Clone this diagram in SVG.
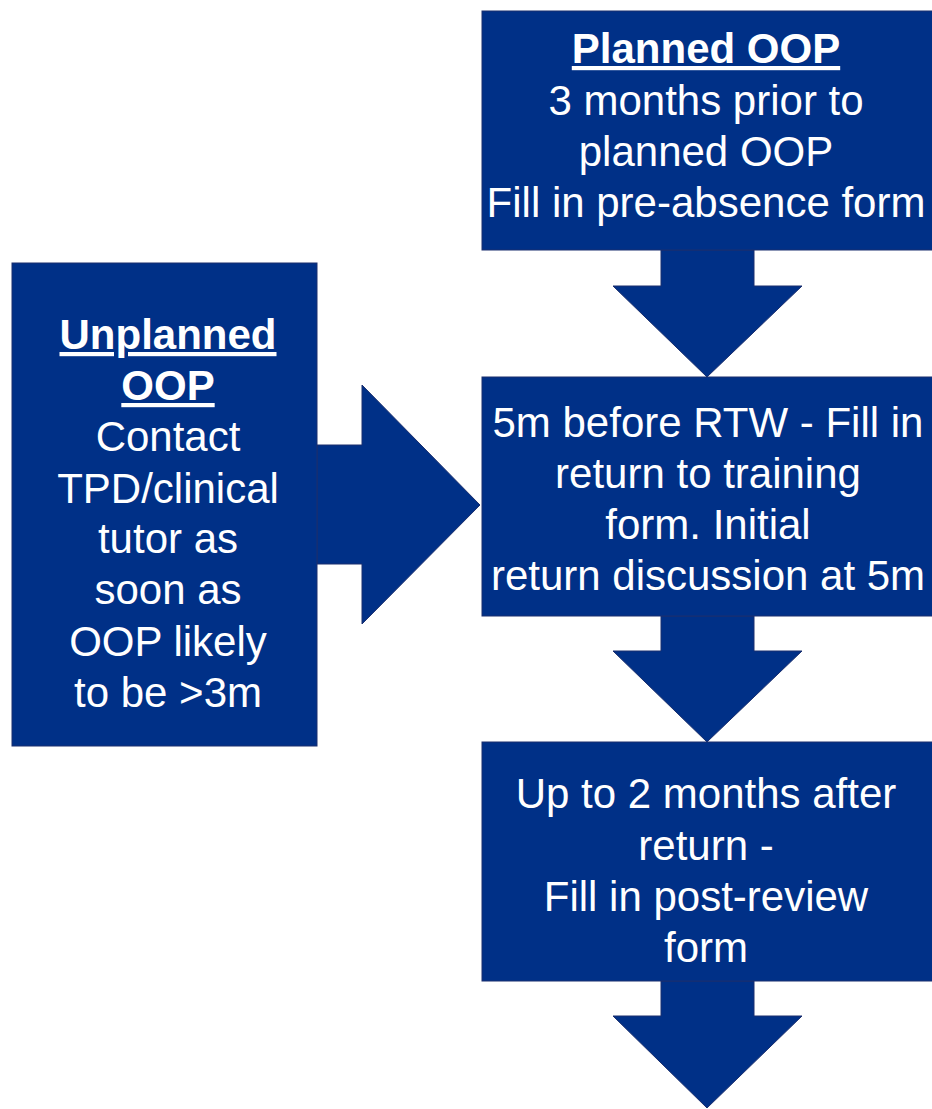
<svg xmlns="http://www.w3.org/2000/svg" width="932" height="1109" viewBox="0 0 932 1109">
<style>
.shape{fill:#003087;stroke:#1b2f6e;stroke-width:1}
.t{font-family:"Liberation Sans",Arial,sans-serif;font-size:42px;fill:#ffffff;text-anchor:middle}
.b{font-weight:bold;text-decoration:underline}
</style>
<rect width="932" height="1109" fill="#ffffff"/>
<g id="connectors">
<path class="shape" d="M661,250 L754,250 L754,286 L802,286 L707,377 L613,286 L661,286 Z"/>
<path class="shape" d="M661,616 L754,616 L754,651 L802,651 L707,742 L613,651 L661,651 Z"/>
<path class="shape" d="M661,981 L754,981 L754,1016 L802,1016 L707,1108 L613,1016 L661,1016 Z"/>
<path class="shape" d="M317,445 L362,445 L362,385 L480,505 L362,624 L362,564 L317,564 Z"/>
</g>
<g id="planned">
<rect class="shape" x="482" y="11" width="451" height="239"/>
<text class="t b" x="706" y="63">Planned OOP</text>
<text class="t" x="706" y="115">3 months prior to</text>
<text class="t" x="706" y="166">planned OOP</text>
<text class="t" x="706" y="217">Fill in pre-absence form</text>
</g>
<g id="unplanned">
<rect class="shape" x="12" y="263" width="305" height="483"/>
<text class="t b" x="168" y="349">Unplanned</text>
<text class="t b" x="168" y="400">OOP</text>
<text class="t" x="168" y="451">Contact</text>
<text class="t" x="168" y="503">TPD/clinical</text>
<text class="t" x="168" y="553">tutor as</text>
<text class="t" x="168" y="604">soon as</text>
<text class="t" x="168" y="656">OOP likely</text>
<text class="t" x="168" y="707">to be &gt;3m</text>
</g>
<g id="return">
<rect class="shape" x="482" y="377" width="451" height="239"/>
<text class="t" x="708" y="437">5m before RTW - Fill in</text>
<text class="t" x="708" y="488">return to training</text>
<text class="t" x="708" y="539">form. Initial</text>
<text class="t" x="708" y="590">return discussion at 5m</text>
</g>
<g id="post">
<rect class="shape" x="482" y="742" width="451" height="239"/>
<text class="t" x="706" y="808">Up to 2 months after</text>
<text class="t" x="706" y="860">return -</text>
<text class="t" x="706" y="911">Fill in post-review</text>
<text class="t" x="706" y="962">form</text>
</g>
</svg>
